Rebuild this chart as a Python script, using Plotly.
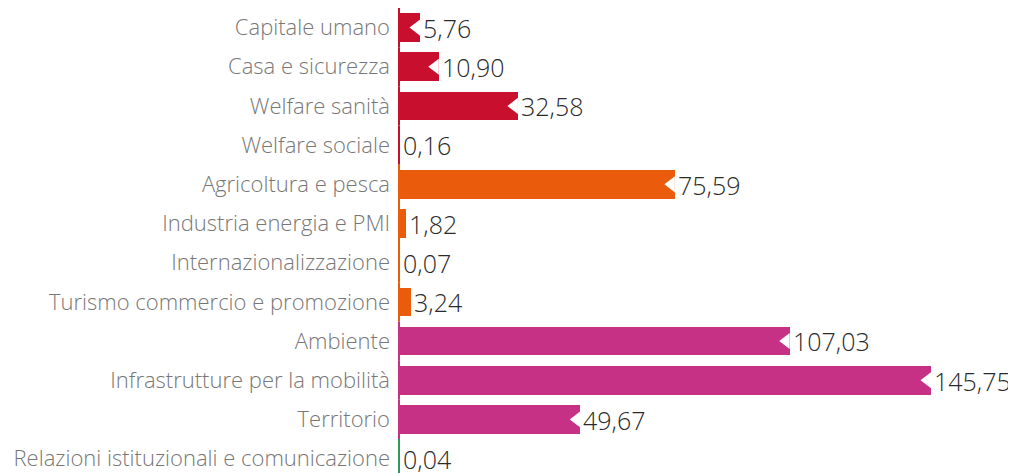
import plotly.graph_objects as go

categories = [
    "Capitale umano",
    "Casa e sicurezza",
    "Welfare sanità",
    "Welfare sociale",
    "Agricoltura e pesca",
    "Industria energia e PMI",
    "Internazionalizzazione",
    "Turismo commercio e promozione",
    "Ambiente",
    "Infrastrutture per la mobilità",
    "Territorio",
    "Relazioni istituzionali e comunicazione",
]
values = [5.76, 10.90, 32.58, 0.16, 75.59, 1.82, 0.07, 3.24, 107.03, 145.75, 49.67, 0.04]
groups = ["red"] * 4 + ["orange"] * 4 + ["magenta"] * 3 + ["green"]

palette = {"red": "#C8102E", "orange": "#EA5B0C", "magenta": "#C63185", "green": "#2E9A5C"}
colors = [palette[g] for g in groups]

X_MAX = 160
PLOT_W = 584
PX_PER_UNIT = PLOT_W / X_MAX
notch_size = 14
notch_offset = (notch_size / 4) / PX_PER_UNIT
notch_x = [v - notch_offset for v in values if v > 4]
notch_y = [c for c, v in zip(categories, values) if v > 4]

fig = go.Figure()
fig.add_trace(go.Bar(
    x=values, y=categories, orientation="h",
    marker=dict(color=colors, line=dict(width=0)),
    width=0.73,
    text=values, texttemplate="%{x:.2f}", textposition="outside",
    textfont=dict(family="Open Sans", size=25, color="#2a2a2a", weight=300),
    constraintext="none", cliponaxis=False,
    hoverinfo="skip",
))
# thin baseline stroke so that near-zero bars remain visible
fig.add_trace(go.Scatter(
    x=[0] * len(categories), y=categories, mode="markers",
    marker=dict(symbol="line-ns", size=28, color=colors, line=dict(color=colors, width=2)),
    cliponaxis=False, hoverinfo="skip",
))
fig.add_trace(go.Scatter(
    x=notch_x, y=notch_y, mode="markers",
    marker=dict(symbol="triangle-left", size=notch_size, color="white", line=dict(width=0)),
    cliponaxis=False, hoverinfo="skip",
))

fig.update_layout(
    width=1016, height=473,
    margin=dict(l=391, r=1016 - 391 - PLOT_W, t=0, b=8, autoexpand=False),
    paper_bgcolor="white", plot_bgcolor="white",
    separators=",.",
    showlegend=False,
    bargap=0,
    xaxis=dict(range=[0, X_MAX], visible=False, fixedrange=True, automargin=False),
    yaxis=dict(
        type="category", categoryorder="array", categoryarray=categories,
        range=[11.368, -0.5], showgrid=False, zeroline=False, showline=False,
        ticks="", ticklabelstandoff=8, automargin=False,
        tickfont=dict(family="Open Sans", size=22, color="#777777", weight=300),
    ),
)

fig.write_html("out.html")
